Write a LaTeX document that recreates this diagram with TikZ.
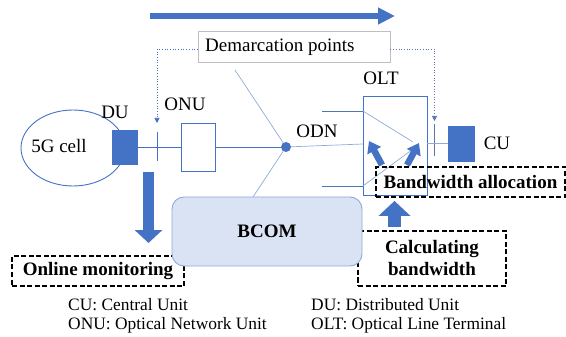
\documentclass[tikz,border=0pt]{standalone}
\usepackage{fontspec}
\setmainfont{Liberation Serif}
\usetikzlibrary{arrows.meta,shapes.geometric}
\definecolor{bl}{HTML}{4472C4}
\definecolor{lbl}{HTML}{8FAADC}
\definecolor{fillb}{HTML}{DAE3F3}
\definecolor{gbord}{HTML}{BFBFBF}
\begin{document}
\begin{tikzpicture}[x=1pt,y=-1pt,
  lab/.style={font=\fontsize{19}{21}\selectfont, inner sep=0pt},
  blab/.style={font=\bfseries\fontsize{19}{22}\selectfont, inner sep=0pt, align=center},
  leg/.style={font=\fontsize{17.4}{19}\selectfont, inner sep=0pt, anchor=west},
  wire/.style={draw=bl, line width=0.8pt},
  faint/.style={draw=lbl, line width=0.7pt},
  dashbox/.style={draw=black, line width=1.8pt, dash pattern=on 5pt off 2.5pt, inner sep=0pt},
  unitbox/.style={draw=bl, line width=0.9pt, inner sep=0pt},
  solidbox/.style={draw=bl, fill=bl, inner sep=0pt},
  dotline/.style={draw=bl, line width=0.7pt, dotted, -{Triangle[width=5pt,length=5pt]}},
  bigarrow/.style={draw=bl, line width=6pt, -{Triangle[width=16pt,length=17pt]}},
  smallarrow/.style={draw=bl, line width=6.5pt, -{Triangle[width=15pt,length=11pt]}}
]
\useasboundingbox (0,0) rectangle (566,337);

% top arrow
\coordinate (ta1) at (150,16);
\coordinate (ta2) at (395,16);
\draw[bigarrow] (ta1) -- (ta2);

% demarcation box
\node[draw=gbord, line width=0.8pt, minimum width=192pt, minimum height=31pt, inner sep=0pt] (demarc) at (294,46.5) {};
\node[lab, anchor=west] (demtxt) at (205,47) {Demarcation points};

% 5G cell
\node[ellipse, draw=bl, line width=0.9pt, minimum width=104pt, minimum height=76pt, inner sep=0pt] (cell) at (73,148) {};
\node[lab] (celltxt) at (59,146) {5G cell};

% DU
\node[solidbox, minimum width=25pt, minimum height=34pt] (du) at (124.5,147) {};
\node[lab] (dulab) at (115,112) {DU};

% ONU
\node[unitbox, minimum width=34pt, minimum height=48pt] (onu) at (198,147) {};
\node[lab] (onulab) at (185,104.5) {ONU};

% ODN dot
\node[circle, fill=bl, minimum size=10pt, inner sep=0pt] (dot) at (286,147) {};
\node[lab] (odnlab) at (317,131.5) {ODN};

% OLT
\node[unitbox, minimum width=64pt, minimum height=99pt] (olt) at (395,145.5) {};
\node[lab] (oltlab) at (381,78) {OLT};

% CU
\node[solidbox, minimum width=26pt, minimum height=35pt] (cu) at (461,143.5) {};
\node[lab] (culab) at (497,143.5) {CU};

% ticks
\coordinate (t1a) at (157,132); \coordinate (t1b) at (157,161);
\coordinate (t2a) at (434,124); \coordinate (t2b) at (434,156);
\draw[wire] (t1a) -- (t1b);
\draw[draw=bl!70!gray, line width=1pt] (t2a) -- (t2b);

% demarcation pointers
\coordinate (dl) at (157,123);
\coordinate (dr) at (434.5,121);
\draw[dotline] ([yshift=-2.5pt]demarc.west) -| (dl);
\draw[dotline, draw=bl!60!gray] ([yshift=-2.5pt]demarc.east) -| (dr);

% wires
\draw[wire] (du.east) -- (onu.west);
\draw[wire] (onu.east) -- (dot);
\coordinate (oltin) at (363,144);
\draw[faint] (dot) -- (oltin);
\coordinate (ul) at (235,70);
\coordinate (ll) at (253,197);
\draw[faint] (dot) -- (ul);
\draw[faint] (dot) -- (ll);
\coordinate (u1) at (322,111); \coordinate (u2) at (363,111);
\coordinate (l1) at (322,186); \coordinate (l2) at (363,186);
\draw[wire, draw=bl!80!gray] (u1) -- (u2);
\draw[wire, draw=bl!80!gray] (l1) -- (l2);
\coordinate (c1) at (413,142); \coordinate (c2) at (413,149);
\draw[faint] (u2) -- (c1);
\draw[faint] (l2) -- (c2);
\draw[faint] (olt.east |- cu.west) -- (cu.west);

% OLT inner arrows
\coordinate (a1s) at (382,165); \coordinate (a1e) at (369,141);
\coordinate (a2s) at (407,165); \coordinate (a2e) at (419,143);
\draw[smallarrow] (a1s) -- (a1e);
\draw[smallarrow] (a2s) -- (a2e);

% dashed boxes
\node[dashbox, blab, minimum width=172pt, minimum height=30pt] (om) at (98,271) {Online monitoring};
\node[dashbox, blab, minimum width=189pt, minimum height=30pt] (bwa) at (470.5,182) {Bandwidth allocation};
\node[dashbox, blab, minimum width=148pt, minimum height=55pt] (calc) at (432,258.5) {Calculating\\bandwidth};

% BCOM
\node[draw=lbl, fill=fillb, line width=0.9pt, rounded corners=12pt, minimum width=190pt, minimum height=69pt, inner sep=0pt, blab] (bcom) at (267,231.5) {BCOM};

% down arrow and up arrow
\coordinate (da1) at (148.5,172); \coordinate (da2) at (148.5,243);
\draw[draw=bl, line width=11pt, -{Triangle[width=27pt,length=13pt]}] (da1) -- (da2);
\draw[draw=bl, line width=13pt, -{Triangle[width=31pt,length=15pt]}] ([xshift=-37.5pt,yshift=3pt]calc.north) -- ([xshift=-76pt,yshift=-3pt]bwa.south);

% legend
\node[leg] (lg1) at (68,305) {CU: Central Unit};
\node[leg] (lg2) at (68,325) {ONU: Optical Network Unit};
\node[leg] (lg3) at (311,305) {DU: Distributed Unit};
\node[leg] (lg4) at (311,325) {OLT: Optical Line Terminal};
\end{tikzpicture}
\end{document}
